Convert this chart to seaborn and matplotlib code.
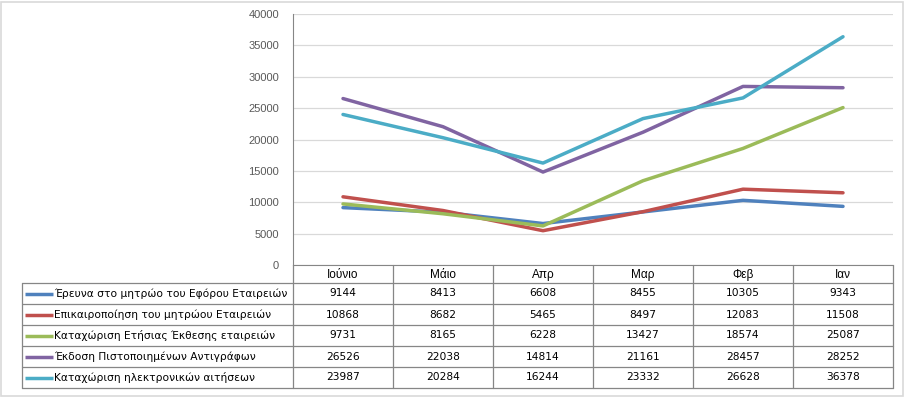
import numpy as np
import pandas as pd
import seaborn as sns
import matplotlib.pyplot as plt
from matplotlib.patches import Rectangle

# δεδομένα
months = ['Ιούνιο', 'Μάιο', 'Απρ', 'Μαρ', 'Φεβ', 'Ιαν']
series_names = ['Έρευνα στο μητρώο του Εφόρου Εταιρειών',
                'Επικαιροποίηση του μητρώου Εταιρειών',
                'Καταχώριση Ετήσιας Έκθεσης εταιρειών',
                'Έκδοση Πιστοποιημένων Αντιγράφων',
                'Καταχώριση ηλεκτρονικών αιτήσεων']
erevna = [9144, 8413, 6608, 8455, 10305, 9343]
epikairopoiisi = [10868, 8682, 5465, 8497, 12083, 11508]
ekthesi = [9731, 8165, 6228, 13427, 18574, 25087]
antigrafa = [26526, 22038, 14814, 21161, 28457, 28252]
ilektronikes = [23987, 20284, 16244, 23332, 26628, 36378]
colors = ['#4F81BD', '#C0504D', '#9BBB59', '#8064A2', '#4BACC6']

all_values = [erevna, epikairopoiisi, ekthesi, antigrafa, ilektronikes]

rows = []
for name, vals in zip(series_names, all_values):
    for i, (m, v) in enumerate(zip(months, vals)):
        rows.append({'pos': i, 'month': m, 'series': name, 'value': v})
df = pd.DataFrame(rows)

sns.set_style('white')
plt.rcParams['font.family'] = ['DejaVu Sans']

W, H = 905, 397
fig = plt.figure(figsize=(W / 100, H / 100), dpi=100)

# περιθώριο
fig.patches.append(Rectangle((1 / W, 1 / H), 1 - 3 / W, 1 - 3 / H, transform=fig.transFigure,
                             fill=False, edgecolor='#D9D9D9', lw=1.2))

x0, x1 = 293, 893
y_top, y_axis = 14, 265
ax = fig.add_axes([x0 / W, 1 - y_axis / H, (x1 - x0) / W, (y_axis - y_top) / H])
sns.lineplot(data=df, x='pos', y='value', hue='series', palette=colors,
             hue_order=series_names, sort=False, lw=2.5, legend=False, ax=ax)
ax.set_xlim(-0.5, len(months) - 0.5)
ax.set_ylim(0, 40000)
ax.set_yticks(np.arange(0, 40001, 5000))
ax.yaxis.grid(True, color='#D9D9D9', lw=0.9)
ax.set_axisbelow(True)
ax.set_xticks([])
ax.set_xlabel('')
ax.set_ylabel('')
ax.tick_params(axis='y', labelsize=8, colors='#595959', length=0, pad=10)
for lab in ax.get_yticklabels():
    lab.set_family('Liberation Sans')
for s in ['top', 'right']:
    ax.spines[s].set_visible(False)
ax.spines['left'].set_color('#868686')
ax.spines['bottom'].set_color('#868686')

# πίνακας δεδομένων
tab = fig.add_axes([0, 0, 1, 1])
tab.set_xlim(0, W)
tab.set_ylim(H, 0)
tab.axis('off')
lc = '#868686'
tl, header_bottom, tb = 22, 283, 388
row_h = (tb - header_bottom) / len(series_names)
col_w = (x1 - x0) / len(months)
fs = 7.7

for j, m in enumerate(months):
    tab.text(x0 + col_w * (j + 0.5), (y_axis + header_bottom) / 2 + 1, m,
             ha='center', va='center', fontsize=8.5, color='#000000', family='Liberation Sans')
for j in range(len(months) + 1):
    tab.plot([x0 + col_w * j] * 2, [y_axis, tb], color=lc, lw=0.9)
for i in range(len(series_names) + 1):
    tab.plot([tl, x1], [header_bottom + row_h * i] * 2, color=lc, lw=0.9)
tab.plot([tl, tl], [header_bottom, tb], color=lc, lw=0.9)

for i, (name, vals, c) in enumerate(zip(series_names, all_values, colors)):
    yc = header_bottom + row_h * (i + 0.5)
    tab.plot([25, 53], [yc, yc], color=c, lw=2.5, solid_capstyle='butt')
    tab.text(54, yc, name, ha='left', va='center', fontsize=fs, color='#000000')
    for j, v in enumerate(vals):
        tab.text(x0 + col_w * (j + 0.5), yc, str(v), ha='center', va='center',
                 fontsize=fs, color='#000000')

fig.savefig('out.png', dpi=100)
